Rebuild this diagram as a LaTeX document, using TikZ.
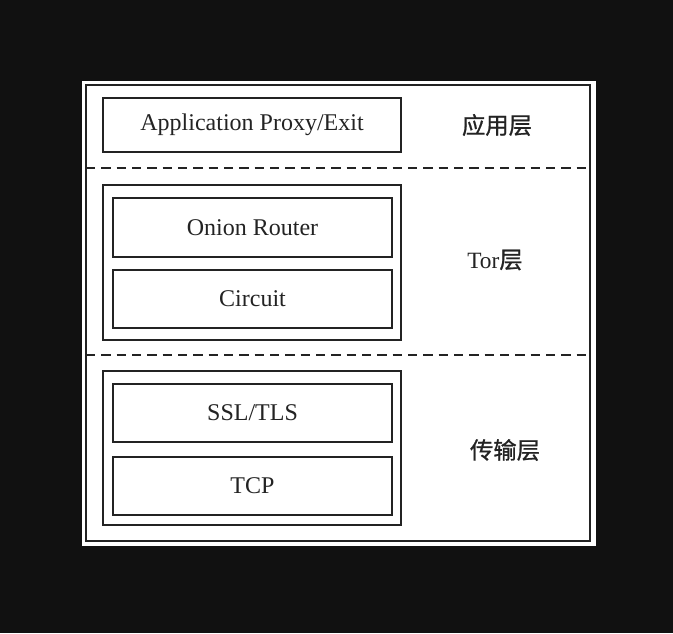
\documentclass[tikz,border=0pt]{standalone}
\usepackage{fontspec}
\setmainfont{Liberation Serif}
\newfontfamily\cjk{Noto Sans CJK SC}[FakeBold=0.9]
\definecolor{bgdark}{RGB}{17,17,17}
\definecolor{ink}{RGB}{35,35,35}
\begin{document}
\begin{tikzpicture}[x=0.75pt,y=-0.75pt,
  box/.style={draw=ink,line width=1.7pt,rectangle,inner sep=0pt,text=ink,font=\fontsize{18}{21}\selectfont},
  lbl/.style={text=ink,inner sep=0pt,font=\fontsize{17.5}{21}\selectfont},
  sep/.style={draw=ink,line width=1.7pt,dash pattern=on 7pt off 4.5pt}]
\fill[bgdark] (0,0) rectangle (673,633);
\useasboundingbox (0,0) rectangle (673,633);
\fill[white] (82,81) rectangle (596,546);
\node[box,minimum width=378pt,minimum height=342pt] (frame) at (338,313) {};
\node[box,minimum width=224pt,minimum height=41pt] (app) at (252,125) {\raisebox{-1.5pt}{Application Proxy/Exit}};
\node[box,minimum width=224pt,minimum height=116pt] (tor) at (252,262.5) {};
\node[box,minimum width=209pt,minimum height=44pt] (or) at (252.5,227.5) {\raisebox{-1pt}{Onion Router}};
\node[box,minimum width=209pt,minimum height=44pt] (circ) at (252.5,299) {\raisebox{-1pt}{Circuit}};
\node[box,minimum width=224pt,minimum height=116pt] (trans) at (252,448) {};
\node[box,minimum width=209pt,minimum height=44pt] (ssl) at (252.5,413) {\raisebox{-1pt}{SSL/TLS}};
\node[box,minimum width=209pt,minimum height=44pt] (tcp) at (252.5,486) {\raisebox{-1pt}{TCP}};
\node[lbl] (l1) at (497,125) {\cjk 应用层};
\node[lbl] (l2) at (495,260) {Tor{\cjk 层}};
\node[lbl] (l3) at (505,450) {\cjk 传输层};
\coordinate (d1l) at (86,168);
\coordinate (d1r) at (590,168);
\coordinate (d2l) at (86,355);
\coordinate (d2r) at (590,355);
\draw[sep] (d1l) -- (d1r);
\draw[sep] (d2l) -- (d2r);
\end{tikzpicture}
\end{document}
